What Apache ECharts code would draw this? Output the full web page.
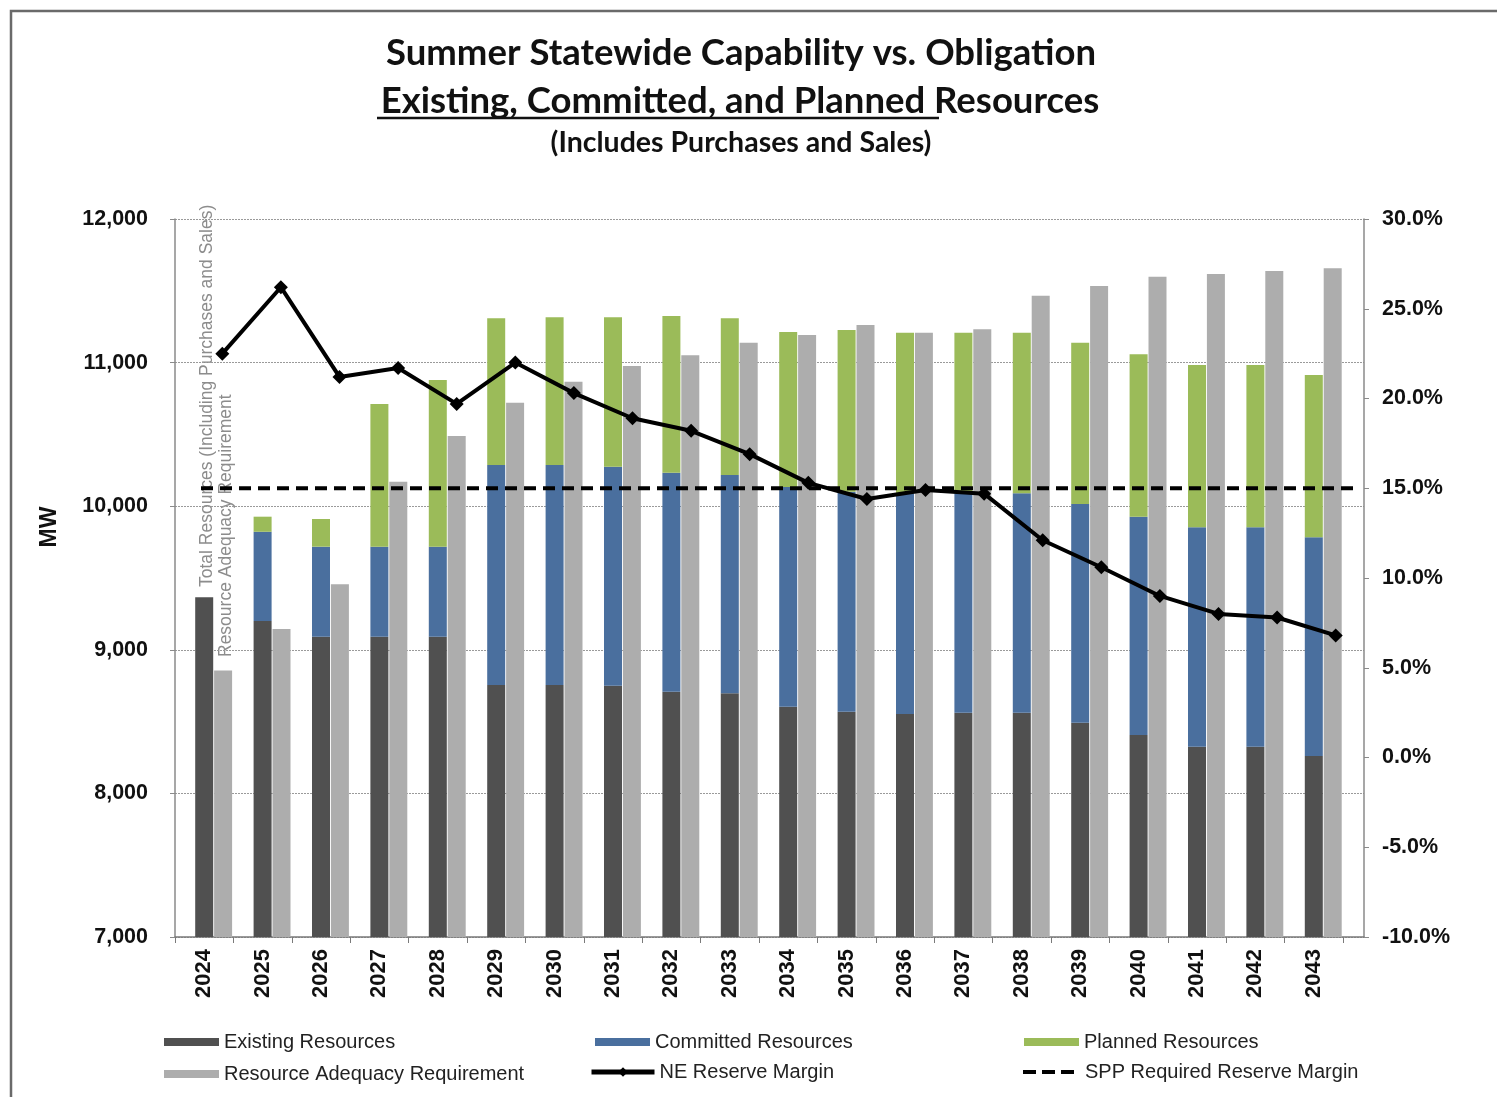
<!DOCTYPE html>
<html>
<head>
<meta charset="utf-8">
<title>Summer Statewide Capability vs. Obligation</title>
<script src="https://cdn.jsdelivr.net/npm/echarts@6/dist/echarts.min.js"></script>
<style>
  html, body { margin: 0; padding: 0; background: #fff; }
  #chart { width: 1497px; height: 1097px; }
</style>
</head>
<body>
<div id="chart"></div>
<script>
// years on the category axis
const years = ['2024', '2025', '2026', '2027', '2028', '2029', '2030', '2031', '2032', '2033',
  '2034', '2035', '2036', '2037', '2038', '2039', '2040', '2041', '2042', '2043']

// MW (stacked: existing + committed + planned)
const existing = [9366, 9201, 9091, 9091, 9091, 8755, 8755, 8750, 8708, 8697,
  8604, 8569, 8553, 8562, 8562, 8492, 8407, 8325, 8325, 8260]
const committed = [0, 621, 627, 627, 627, 1532, 1532, 1525, 1525, 1520,
  1530, 1531, 1537, 1528, 1528, 1523, 1520, 1528, 1528, 1523]
const planned = [0, 105, 193, 994, 1161, 1021, 1028, 1040, 1092, 1091,
  1079, 1127, 1118, 1118, 1118, 1124, 1131, 1130, 1130, 1131]
const requirement = [8855, 9145, 9456, 10171, 10489, 10721, 10867, 10976, 11051, 11139,
  11192, 11262, 11208, 11232, 11466, 11533, 11598, 11617, 11638, 11657]

// reserve margins in %
const neMargin = [22.5, 26.2, 21.2, 21.7, 19.7, 22.0, 20.3, 18.9, 18.2, 16.9,
  15.3, 14.4, 14.9, 14.7, 12.1, 10.6, 9.0, 8.0, 7.8, 6.8]
const sppMargin = [15, 15, 15, 15, 15, 15, 15, 15, 15, 15,
  15, 15, 15, 15, 15, 15, 15, 15, 15, 15]

const axisFont = 'Liberation Sans, Arial, sans-serif'
const titleFont = 'Lato, Open Sans, sans-serif'

const chart = echarts.init(document.getElementById('chart'))

const gridTop = 219, gridBottom = 1097 - 937
const barItem = (name, color) => ({ name: name, icon: 'rect', itemStyle: { color: color } })

const legendBase = {
  itemWidth: 55,
  itemHeight: 8,
  textStyle: { fontSize: 20, color: '#222', fontFamily: axisFont },
  selectedMode: false
}

let option = {
  backgroundColor: '#fff',
  animation: false,
  grid: [
    // frame with both y axes
    { left: 175, width: 1189, top: gridTop, bottom: gridBottom },
    // bars
    { left: 175, width: 1168, top: gridTop, bottom: gridBottom },
    // NE reserve margin line
    { left: 193, width: 1172, top: gridTop, bottom: gridBottom },
    // SPP dashed line
    { left: 201, width: 1156, top: gridTop, bottom: gridBottom }
  ],
  xAxis: [
    {
      gridIndex: 0, type: 'category', data: years,
      axisLine: { onZero: false, lineStyle: { color: '#7a7a7a', width: 1.5 } },
      axisTick: { show: false }, axisLabel: { show: false }
    },
    {
      gridIndex: 1, type: 'category', data: years,
      axisLine: { show: false },
      axisTick: { show: true, length: 6, lineStyle: { color: '#7a7a7a' } },
      axisLabel: {
        rotate: 90, margin: 12, fontSize: 22, fontWeight: 'bold',
        color: '#111', fontFamily: axisFont
      }
    },
    { gridIndex: 2, type: 'category', data: years, show: false },
    { gridIndex: 3, type: 'category', data: years, show: false, boundaryGap: false }
  ],
  yAxis: [
    {
      gridIndex: 0, type: 'value', min: 7000, max: 12000, interval: 1000,
      axisLine: { show: true, lineStyle: { color: '#8a8a8a', width: 1.5 } },
      axisTick: { show: true, length: 5, lineStyle: { color: '#8a8a8a' } },
      axisLabel: {
        margin: 27, fontSize: 21.5, fontWeight: 'bold', color: '#111', fontFamily: axisFont,
        formatter: v => v.toLocaleString('en-US')
      },
      splitLine: { show: true, lineStyle: { color: '#9a9a9a', type: [2, 1] } }
    },
    {
      gridIndex: 0, type: 'value', position: 'right', min: -10, max: 30, interval: 5,
      axisLine: { show: true, lineStyle: { color: '#8a8a8a', width: 1.5 } },
      axisTick: { show: true, length: 5, lineStyle: { color: '#8a8a8a' } },
      axisLabel: {
        margin: 18, fontSize: 21.5, fontWeight: 'bold', color: '#111', fontFamily: axisFont,
        formatter: v => v.toFixed(1) + '%'
      },
      splitLine: { show: false }
    },
    { gridIndex: 1, type: 'value', min: 7000, max: 12000, show: false },
    { gridIndex: 2, type: 'value', min: -10, max: 30, show: false },
    { gridIndex: 3, type: 'value', min: -10, max: 30, show: false }
  ],
  legend: [
    Object.assign({}, legendBase, { left: 159, top: 1027, data: [barItem('Existing Resources', '#505050')] }),
    Object.assign({}, legendBase, { left: 590, top: 1027, data: [barItem('Committed Resources', '#4a6f9e')] }),
    Object.assign({}, legendBase, { left: 1019, top: 1027, data: [barItem('Planned Resources', '#9bbb59')] }),
    Object.assign({}, legendBase, { left: 159, top: 1059, data: [barItem('Resource Adequacy Requirement', '#adadad')] }),
    Object.assign({}, legendBase, {
      left: 584, top: 1057, itemWidth: 63, itemHeight: 12,
      lineStyle: { width: 5 }, data: ['NE Reserve Margin']
    }),
    Object.assign({}, legendBase, {
      left: 1016, top: 1057, itemWidth: 57, itemHeight: 12,
      lineStyle: { width: 4, type: [13, 6] },
      data: [{ name: 'SPP Required Reserve Margin', itemStyle: { opacity: 0 } }]
    })
  ],
  graphic: [
    {
      type: 'rect', silent: true,
      shape: { x: 11, y: 11, width: 1600, height: 1200 },
      style: { fill: 'none', stroke: '#6a6a6a', lineWidth: 2.5 }
    },
    {
      type: 'text', x: 741, y: 53,
      style: {
        text: 'Summer Statewide Capability vs. Obligation', align: 'center', verticalAlign: 'middle',
        fontSize: 36.5, fontWeight: 'bold', fontFamily: titleFont, fill: '#111'
      }
    },
    {
      type: 'text', x: 740, y: 101,
      style: {
        text: 'Existing, Committed, and Planned Resources', align: 'center', verticalAlign: 'middle',
        fontSize: 36.5, fontWeight: 'bold', fontFamily: titleFont, fill: '#111'
      }
    },
    {
      type: 'line', silent: true,
      shape: { x1: 377, y1: 118, x2: 939, y2: 118 },
      style: { stroke: '#111', lineWidth: 2.5 }
    },
    {
      type: 'text', x: 741, y: 143,
      style: {
        text: '(Includes Purchases and Sales)', align: 'center', verticalAlign: 'middle',
        fontSize: 28.5, fontWeight: 'bold', fontFamily: titleFont, fill: '#111'
      }
    },
    {
      type: 'text', x: 50, y: 527, rotation: Math.PI / 2,
      style: {
        text: 'MW', align: 'center', verticalAlign: 'middle',
        fontSize: 23, fontWeight: 'bold', fontFamily: axisFont, fill: '#111'
      }
    },
    {
      type: 'text', x: 207, y: 587, rotation: Math.PI / 2,
      style: {
        text: 'Total Resources (Including Purchases and Sales)', align: 'left', verticalAlign: 'middle',
        fontSize: 17.5, fontFamily: axisFont, fill: '#8c8c8c'
      }
    },
    {
      type: 'text', x: 226, y: 657, rotation: Math.PI / 2,
      style: {
        text: 'Resource Adequacy Requirement', align: 'left', verticalAlign: 'middle',
        fontSize: 17.5, fontFamily: axisFont, fill: '#8c8c8c'
      }
    }
  ],
  series: [
    // empty spacer so the stack sits right of the category centre, like the original
    { name: 'spacer', type: 'bar', xAxisIndex: 1, yAxisIndex: 2, barWidth: 18, barGap: '5%', data: [] },
    {
      name: 'Existing Resources', type: 'bar', stack: 'res', xAxisIndex: 1, yAxisIndex: 2,
      barWidth: 18, barGap: '5%', itemStyle: { color: '#505050' }, data: existing
    },
    {
      name: 'Committed Resources', type: 'bar', stack: 'res', xAxisIndex: 1, yAxisIndex: 2,
      barWidth: 18, itemStyle: { color: '#4a6f9e' }, data: committed
    },
    {
      name: 'Planned Resources', type: 'bar', stack: 'res', xAxisIndex: 1, yAxisIndex: 2,
      barWidth: 18, itemStyle: { color: '#9bbb59' }, data: planned
    },
    {
      name: 'Resource Adequacy Requirement', type: 'bar', xAxisIndex: 1, yAxisIndex: 2,
      barWidth: 18, barGap: '5%', itemStyle: { color: '#adadad' }, data: requirement
    },
    {
      name: 'SPP Required Reserve Margin', type: 'line', xAxisIndex: 3, yAxisIndex: 4,
      symbol: 'none', lineStyle: { color: '#000', width: 4, type: [12, 7] },
      itemStyle: { color: '#000' }, data: sppMargin
    },
    {
      name: 'NE Reserve Margin', type: 'line', xAxisIndex: 2, yAxisIndex: 3,
      symbol: 'diamond', symbolSize: 14,
      lineStyle: { color: '#000', width: 4 }, itemStyle: { color: '#000' }, data: neMargin
    }
  ]
}

chart.setOption(option)
</script>
</body>
</html>
